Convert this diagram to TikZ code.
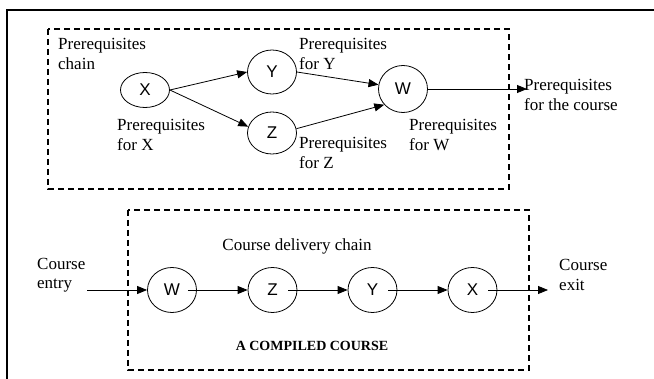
\documentclass[tikz,border=0pt]{standalone}
\usepackage{fontspec}
\setmainfont{Liberation Serif}
\newfontfamily\letterfont{Liberation Sans}
\usetikzlibrary{arrows.meta,shapes.geometric,positioning}
\tikzstyle{arrow} = [line width=0.8pt,-{Triangle[length=10pt,width=8pt]}]
\tikzstyle{stage} = [ellipse, draw, line width=0.8pt, minimum width=49pt, minimum height=45pt, inner sep=0pt, font=\letterfont\fontsize{17}{19}\selectfont]
\tikzstyle{note} = [anchor=west, align=left, inner sep=0pt, font=\fontsize{17}{19.5}\selectfont]
\tikzstyle{chainbox} = [dash pattern=on 6pt off 4pt, line width=1.5pt]

\begin{document}
\begin{tikzpicture}[x=1pt, y=-1pt]
    \useasboundingbox (0,0) rectangle (654,379);
    % Frame
    \draw[line width=2pt] (7,379) -- (7,10) -- (654,10);

    % Prerequisites chain
    \draw[chainbox] (48,29) rectangle (509,189);
    \node[note] (lchain) at (58,54) {Prerequisites\\chain};
    \node[stage, minimum height=35pt] (px) at (145,90) {X};
    \node[stage, minimum height=44pt] (py) at (272,72) {Y};
    \node[stage, minimum height=42pt] (pz) at (272,133) {Z};
    \node[stage, minimum height=47pt] (pw) at (403,89) {W};
    \node[note] (lx) at (117,135) {Prerequisites\\for X};
    \node[note] (ly) at (299,54) {Prerequisites\\for Y};
    \node[note] (lz) at (299,153) {Prerequisites\\for Z};
    \node[note] (lw) at (409,135) {Prerequisites\\for W};
    \node[note] (lcourse) at (524,95) {Prerequisites\\for the course};
    \coordinate (pout) at (527,89);

    \draw[arrow] (px.east) -- (py.west);
    \draw[arrow] (px.east) -- (pz.165);
    \draw[arrow] (py.east) -- (pw.170);
    \draw[arrow] (pz.10) -- (pw.220);
    \draw[arrow] (pw.east) -- (pout);

    % Course delivery chain
    \draw[chainbox] (128,210) rectangle (529,370);
    \node[note, anchor=center] (ldelivery) at (297,246) {Course delivery chain};
    \node[stage] (cw) at (172,290) {W};
    \node[stage] (cz) at (272.5,290) {Z};
    \node[stage] (cy) at (372.5,290) {Y};
    \node[stage] (cx) at (472.5,290) {X};
    \node[font=\bfseries\fontsize{14}{16}\selectfont, inner sep=0pt] (lcompiled) at (312,346) {A COMPILED COURSE};
    \node[note] (lentry) at (37,275) {Course\\entry};
    \node[note] (lexit) at (559,275) {Course\\exit};
    \coordinate (entry) at (87,290);
    \coordinate (exit) at (548,290);

    \draw[arrow] (entry) -- (cw.west);
    \draw[arrow] ([xshift=-9pt]cw.east) -- (cz.west);
    \draw[arrow] ([xshift=-9pt]cz.east) -- (cy.west);
    \draw[arrow] ([xshift=-9pt]cy.east) -- (cx.west);
    \draw[arrow] ([xshift=-9pt]cx.east) -- (exit);
\end{tikzpicture}
\end{document}
